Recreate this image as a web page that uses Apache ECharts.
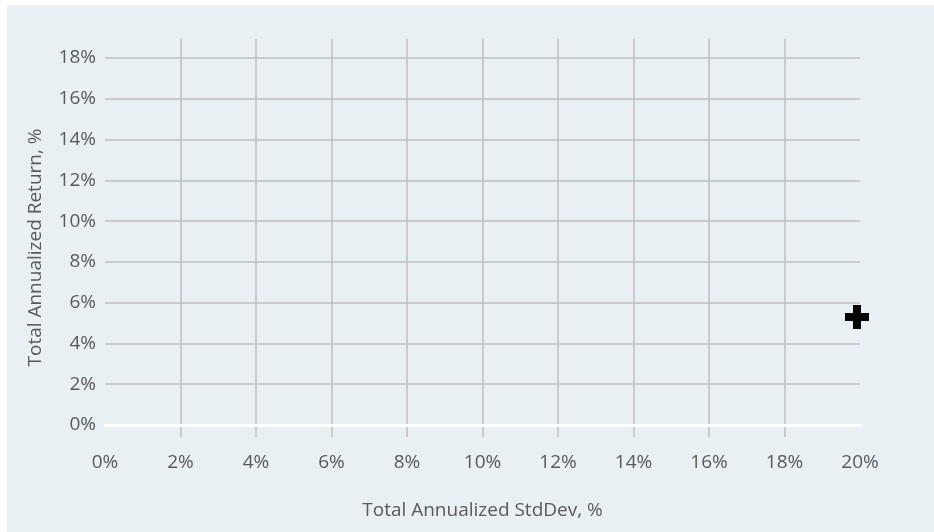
<!DOCTYPE html>
<html>
<head>
<meta charset="utf-8">
<script src="https://cdn.jsdelivr.net/npm/echarts@6/dist/echarts.min.js"></script>
<style>
html,body{margin:0;padding:0;background:#ffffff;width:934px;height:532px;overflow:hidden;}
#chart{position:absolute;left:7px;top:5px;width:927px;height:527px;background:#e8f0f3;}
</style>
</head>
<body>
<div id="chart"></div>
<script>
var xTitle = 'Total Annualized StdDev, %';
var yTitle = 'Total Annualized Return, %';
var xRange = [0, 20];
var yRange = [0, 18];
var tickStep = 2;
var points = [[19.92, 5.3]];

var font = '"Open Sans", "Noto Sans", sans-serif';
var txt = '#595959';
var gridCol = '#bfbfbf';

var chart = echarts.init(document.getElementById('chart'), null, {renderer: 'canvas'});
chart.setOption({
  animation: false,
  textStyle: {fontFamily: font},
  grid: [
    {left: 98, right: 74, top: 53, bottom: 107},
    {left: 98, right: 74, top: 34, bottom: 95}
  ],
  xAxis: [
    {
      gridIndex: 0, type: 'value', min: xRange[0], max: xRange[1], interval: tickStep,
      name: xTitle, nameLocation: 'middle', nameGap: 76,
      nameTextStyle: {color: txt, fontSize: 19, fontFamily: font},
      axisLabel: {formatter: '{value}%', color: txt, fontSize: 19, margin: 28, fontFamily: font},
      axisLine: {show: true, onZero: false, lineStyle: {color: '#ffffff', width: 3, cap: 'round'}},
      axisTick: {show: false},
      splitLine: {show: false}
    },
    {
      gridIndex: 1, type: 'value', min: xRange[0], max: xRange[1], interval: tickStep,
      axisLabel: {show: false}, axisLine: {show: false}, axisTick: {show: false},
      splitLine: {show: true, showMinLine: false, showMaxLine: false, lineStyle: {color: gridCol, width: 1.5}}
    }
  ],
  yAxis: [
    {
      gridIndex: 0, type: 'value', min: yRange[0], max: yRange[1], interval: tickStep,
      name: yTitle, nameLocation: 'middle', nameGap: 60,
      nameTextStyle: {color: txt, fontSize: 19, fontFamily: font, padding: [0, 12, 0, 0]},
      axisLabel: {formatter: '{value}%', color: txt, fontSize: 19, margin: 9, fontFamily: font},
      axisLine: {show: false}, axisTick: {show: false},
      splitLine: {show: true, showMinLine: false, lineStyle: {color: gridCol, width: 1.5}}
    },
    {
      gridIndex: 1, type: 'value', min: 0, max: 1, show: false, splitLine: {show: false}
    }
  ],
  series: [
    {
      type: 'scatter', xAxisIndex: 0, yAxisIndex: 0, z: 10,
      symbol: 'path://M8,0h8v8h8v8h-8v8h-8v-8h-8v-8h8z',
      symbolSize: 24,
      itemStyle: {color: '#000000', opacity: 1},
      data: points
    }
  ]
});
</script>
</body>
</html>
